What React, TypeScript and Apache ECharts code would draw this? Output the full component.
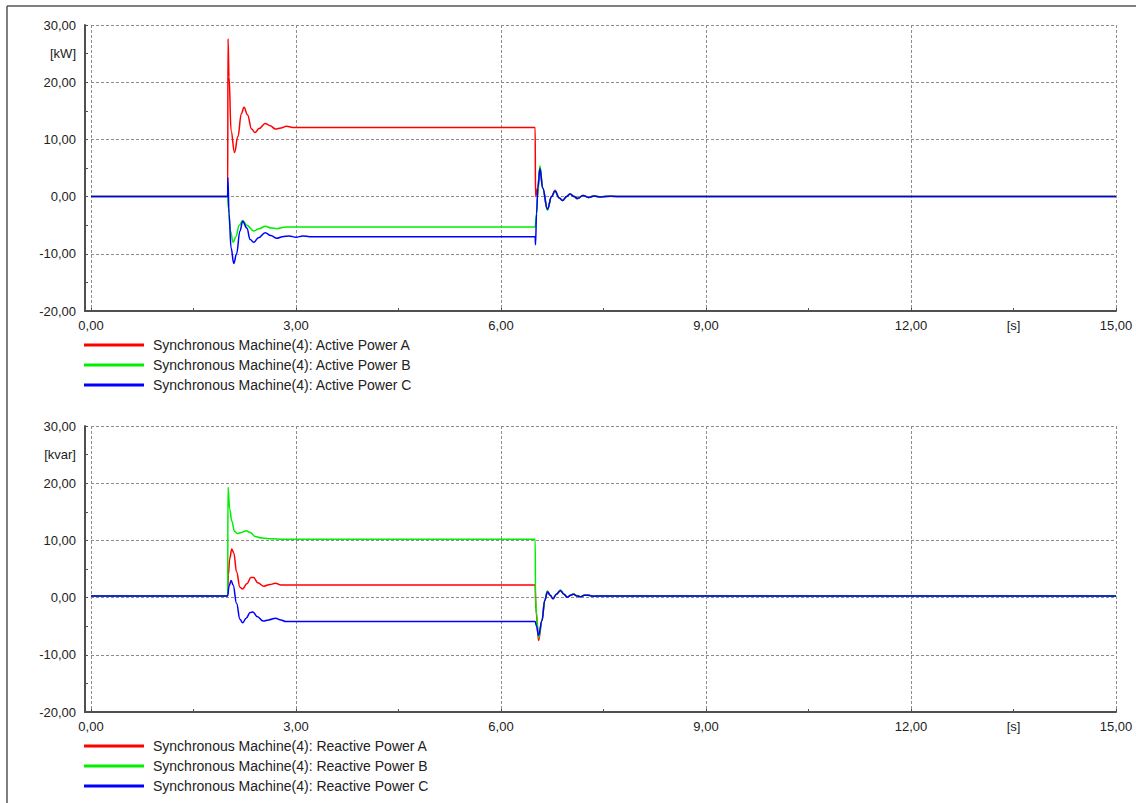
import React, { useEffect, useRef } from "react";
import * as echarts from "echarts";

// Time axis ticks (s) and value axis ticks
const X_MIN = 0;
const X_MAX = 15;
const X_TICK = 1.5;
const X_GRID = 3;
const Y_MIN = -20;
const Y_MAX = 30;
const Y_TICK = 5;
const Y_GRID = 10;

// Active power [kW], pairs of [t, P]
const activeA: [number, number][] = [
  [0, 0], [2.0, 0], [2.005, 27.6], [2.02, 21], [2.05, 11.5], [2.1, 7.7], [2.15, 10.5], [2.2, 14.5],
  [2.24, 15.6], [2.29, 14.3], [2.35, 11.8], [2.4, 11.2], [2.46, 11.9], [2.55, 12.8], [2.62, 12.4],
  [2.7, 11.8], [2.78, 12.0], [2.86, 12.3], [2.95, 12.1], [3.1, 12.1], [6.5, 12.1], [6.505, 0],
  [6.535, 1.5], [6.57, 5.0], [6.61, 1.5], [6.68, -2.2], [6.74, 0], [6.79, 1.1], [6.85, -0.2],
  [6.9, -0.7], [6.96, 0], [7.01, 0.5], [7.07, 0], [7.12, -0.35], [7.2, 0.2], [7.28, -0.15],
  [7.36, 0.1], [7.45, -0.05], [7.6, 0.05], [7.8, 0], [15, 0],
];
const activeB: [number, number][] = [
  [0, 0], [2.0, 0], [2.01, -2], [2.04, -6], [2.08, -8.0], [2.12, -7], [2.17, -5], [2.22, -4.2],
  [2.28, -5], [2.38, -6.0], [2.46, -5.6], [2.55, -5.2], [2.64, -5.5], [2.72, -5.6], [2.85, -5.3],
  [3.0, -5.3], [6.5, -5.3], [6.52, -3], [6.535, 0], [6.57, 5.4], [6.61, 1.5], [6.68, -2.4],
  [6.74, 0], [6.79, 1.0], [6.85, -0.2], [6.9, -0.7], [6.96, 0], [7.01, 0.45], [7.07, 0],
  [7.12, -0.35], [7.2, 0.2], [7.28, -0.15], [7.36, 0.1], [7.45, -0.05], [7.6, 0.05], [7.8, 0], [15, 0],
];
const activeC: [number, number][] = [
  [0, 0], [2.0, 0], [2.003, 3.3], [2.02, -3], [2.05, -9], [2.09, -11.7], [2.13, -10], [2.18, -6],
  [2.22, -4.3], [2.28, -5.5], [2.33, -7.5], [2.38, -8.0], [2.45, -7.2], [2.55, -6.3], [2.63, -6.8],
  [2.72, -7.3], [2.8, -7.0], [2.9, -6.9], [3.0, -7.1], [3.1, -6.9], [3.2, -7.0], [6.5, -7.0],
  [6.505, -8.4], [6.52, -3], [6.54, 1.5], [6.57, 4.9], [6.61, 1.5], [6.68, -2.2], [6.74, 0],
  [6.79, 1.0], [6.85, -0.2], [6.9, -0.7], [6.96, 0], [7.01, 0.45], [7.07, 0], [7.12, -0.35],
  [7.2, 0.2], [7.28, -0.15], [7.36, 0.1], [7.45, -0.05], [7.6, 0.05], [7.8, 0], [15, 0],
];

// Reactive power [kvar], pairs of [t, Q]
const reactiveA: [number, number][] = [
  [0, 0.3], [2.0, 0.3], [2.01, 4], [2.03, 6.8], [2.06, 8.5], [2.09, 7.8], [2.13, 4.5], [2.18, 1.8],
  [2.22, 1.5], [2.28, 2.4], [2.34, 3.5], [2.38, 3.5], [2.44, 2.6], [2.53, 2.0], [2.62, 2.3],
  [2.7, 2.5], [2.78, 2.2], [2.9, 2.2], [6.5, 2.2], [6.51, -2], [6.55, -7.5], [6.6, -4], [6.64, -0.5],
  [6.68, 1.1], [6.72, 0.4], [6.76, -0.2], [6.81, 0.6], [6.87, 1.3], [6.92, 0.6], [6.97, 0.05],
  [7.02, 0.4], [7.06, 0.65], [7.11, 0.3], [7.16, 0.15], [7.22, 0.4], [7.27, 0.45], [7.35, 0.25],
  [7.45, 0.3], [15, 0.3],
];
const reactiveB: [number, number][] = [
  [0, 0.3], [2.0, 0.3], [2.005, 19.3], [2.03, 15.5], [2.06, 13.4], [2.1, 11.6], [2.14, 11.2],
  [2.2, 11.4], [2.27, 11.7], [2.33, 11.4], [2.4, 10.7], [2.5, 10.4], [2.65, 10.3], [2.8, 10.2],
  [6.5, 10.2], [6.505, 0], [6.52, -3], [6.55, -7.0], [6.6, -4], [6.64, -0.5], [6.68, 1.1],
  [6.72, 0.4], [6.76, -0.2], [6.81, 0.6], [6.87, 1.3], [6.92, 0.6], [6.97, 0.05], [7.02, 0.4],
  [7.06, 0.65], [7.11, 0.3], [7.16, 0.15], [7.22, 0.4], [7.27, 0.45], [7.35, 0.25], [7.45, 0.3],
  [15, 0.3],
];
const reactiveC: [number, number][] = [
  [0, 0.3], [2.0, 0.3], [2.02, 2.0], [2.05, 3.0], [2.08, 2.2], [2.13, -1], [2.18, -3.8],
  [2.22, -4.4], [2.27, -3.6], [2.33, -2.6], [2.37, -2.5], [2.43, -3.3], [2.52, -4.1], [2.6, -3.9],
  [2.7, -3.6], [2.78, -3.9], [2.85, -4.2], [3.0, -4.2], [6.5, -4.2], [6.52, -5], [6.55, -6.6],
  [6.6, -4], [6.64, -0.5], [6.68, 1.0], [6.72, 0.4], [6.76, -0.2], [6.81, 0.6], [6.87, 1.2],
  [6.92, 0.6], [6.97, 0.05], [7.02, 0.4], [7.06, 0.6], [7.11, 0.3], [7.16, 0.15], [7.22, 0.4],
  [7.27, 0.4], [7.35, 0.25], [7.45, 0.3], [15, 0.3],
];

const activeNames = [
  "Synchronous Machine(4): Active Power A",
  "Synchronous Machine(4): Active Power B",
  "Synchronous Machine(4): Active Power C",
];
const reactiveNames = [
  "Synchronous Machine(4): Reactive Power A",
  "Synchronous Machine(4): Reactive Power B",
  "Synchronous Machine(4): Reactive Power C",
];
const phaseColors = ["#ff0000", "#00ee00", "#0000ff"];
const yUnits = ["[kW]", "[kvar]"];
const xUnit = "[s]";

const FONT = "Liberation Sans, Arial, sans-serif";
const AXIS_COLOR = "#505050";
const GRID_COLOR = "#8c8c8c";
const TEXT_COLOR = "#222";

const fmt = (v: number) => v.toFixed(2).replace(".", ",");
const near = (a: number, b: number) => Math.abs(a - b) < 1e-6;

const GRIDS = [
  { left: 91, right: 20, top: 25, height: 286 },
  { left: 91, right: 20, top: 426, height: 286 },
];

export default function App() {
  const ref = useRef<HTMLDivElement>(null);

  useEffect(() => {
    if (!ref.current) return;
    const chart = echarts.init(ref.current, undefined, { renderer: "svg" });

    const xAxes: any[] = [];
    const yAxes: any[] = [];
    GRIDS.forEach((_, gi) => {
      // labelled axis with minor ticks
      xAxes.push({
        type: "value",
        gridIndex: gi,
        min: X_MIN,
        max: X_MAX,
        interval: X_TICK,
        axisLine: { show: true, onZero: false, lineStyle: { color: AXIS_COLOR, width: 2 } },
        axisTick: { show: true, inside: true, length: 3, lineStyle: { color: AXIS_COLOR } },
        splitLine: { show: false },
        axisLabel: {
          color: TEXT_COLOR,
          fontFamily: FONT,
          fontSize: 13,
          margin: 8,
          showMinLabel: true,
          showMaxLabel: true,
          formatter: (v: number) =>
            near(v, 13.5) ? xUnit : near(v % X_GRID, 0) || near(v % X_GRID, X_GRID) ? fmt(v) : "",
        },
      });
      // grid lines only
      xAxes.push({
        type: "value",
        gridIndex: gi,
        min: X_MIN,
        max: X_MAX,
        interval: X_GRID,
        axisLine: { show: false },
        axisTick: { show: false },
        axisLabel: { show: false },
        splitLine: { show: true, lineStyle: { color: GRID_COLOR, type: [3, 2], width: 1 } },
      });
      yAxes.push({
        type: "value",
        gridIndex: gi,
        min: Y_MIN,
        max: Y_MAX,
        interval: Y_TICK,
        offset: 6,
        axisLine: { show: true, onZero: false, lineStyle: { color: AXIS_COLOR, width: 2 } },
        axisTick: { show: true, inside: true, length: 3, lineStyle: { color: AXIS_COLOR } },
        splitLine: { show: false },
        axisLabel: {
          color: TEXT_COLOR,
          fontFamily: FONT,
          fontSize: 13,
          margin: 9,
          showMinLabel: true,
          showMaxLabel: true,
          formatter: (v: number) =>
            near(v, 25) ? yUnits[gi] : near(Math.abs(v) % Y_GRID, 0) ? fmt(v) : "",
        },
      });
      yAxes.push({
        type: "value",
        gridIndex: gi,
        min: Y_MIN,
        max: Y_MAX,
        interval: Y_GRID,
        axisLine: { show: false },
        axisTick: { show: false },
        axisLabel: { show: false },
        splitLine: { show: true, lineStyle: { color: GRID_COLOR, type: [3, 2], width: 1 } },
      });
    });

    const mk = (name: string, data: [number, number][], color: string, gi: number) => ({
      name,
      type: "line",
      xAxisIndex: gi * 2,
      yAxisIndex: gi * 2,
      data,
      showSymbol: false,
      smooth: 0.4,
      smoothMonotone: "x",
      lineStyle: { color, width: 1.5 },
      itemStyle: { color },
      emphasis: { disabled: true },
    });

    const activeData = [activeA, activeB, activeC];
    const reactiveData = [reactiveA, reactiveB, reactiveC];

    const legendBase = {
      orient: "vertical",
      left: 84,
      padding: 0,
      icon: "rect",
      itemWidth: 60,
      itemHeight: 3,
      itemGap: 6,
      selectedMode: false,
      textStyle: { color: TEXT_COLOR, fontFamily: FONT, fontSize: 14, padding: [0, 0, 0, 4] },
    };

    chart.setOption({
      animation: false,
      backgroundColor: "#fff",
      grid: GRIDS.map((g) => ({ ...g, containLabel: false })),
      xAxis: xAxes,
      yAxis: yAxes,
      legend: [
        { ...legendBase, top: 338, data: activeNames },
        { ...legendBase, top: 739, data: reactiveNames },
      ],
      series: [
        ...activeNames.map((n, i) => mk(n, activeData[i], phaseColors[i], 0)),
        ...reactiveNames.map((n, i) => mk(n, reactiveData[i], phaseColors[i], 1)),
      ],
      graphic: [
        // outer frame (top and left edges)
        { type: "line", shape: { x1: 7, y1: 6, x2: 1136, y2: 6 }, style: { stroke: "#555", lineWidth: 1.5 } },
        { type: "line", shape: { x1: 7, y1: 6, x2: 7, y2: 803 }, style: { stroke: "#555", lineWidth: 1.5 } },
        // x axis lines run into the offset y axes
        ...GRIDS.map((g) => ({
          type: "line",
          shape: { x1: g.left - 7, y1: g.top + g.height, x2: g.left, y2: g.top + g.height },
          style: { stroke: AXIS_COLOR, lineWidth: 2 },
        })),
      ],
    });

    return () => chart.dispose();
  }, []);

  return (
    <div
      ref={ref}
      style={{ position: "absolute", left: 0, top: 0, width: 1136, height: 803 }}
    />
  );
}
